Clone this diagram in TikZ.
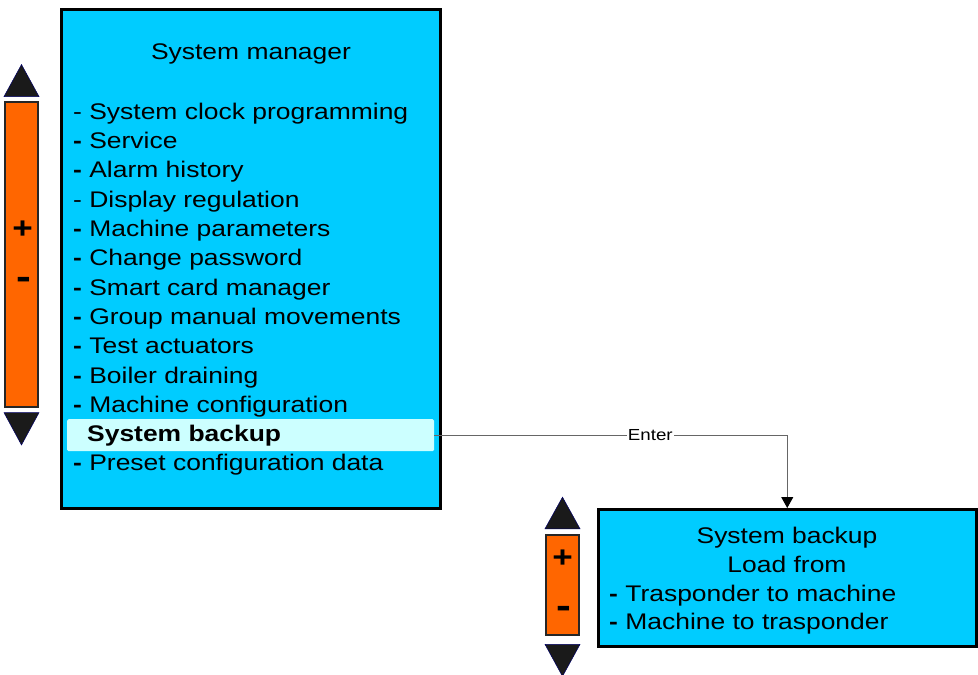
\documentclass[tikz,border=0pt]{standalone}
\usepackage{fontspec}
\setmainfont{Liberation Sans}[FakeStretch=1.17]
\usetikzlibrary{arrows.meta,positioning}
\definecolor{screen}{HTML}{00CCFF}
\definecolor{selrow}{HTML}{CCFFFF}
\definecolor{knob}{HTML}{FF6600}
\definecolor{tridark}{HTML}{1A1A1A}
\tikzset{
  panel/.style={draw=black, line width=2.5pt, fill=screen, anchor=north west, inner sep=0pt},
  bar/.style={draw=black!85, line width=2pt, fill=knob, minimum width=33pt, inner sep=0pt},
  item/.style={anchor=base west, inner sep=0pt, font=\fontsize{22.6}{29.3}\selectfont},
  selitem/.style={item, font=\fontsize{22.6}{29.3}\selectfont\bfseries},
  title/.style={anchor=base, inner sep=0pt, font=\fontsize{22.6}{29.3}\selectfont},
  sign/.style={inner sep=0pt, font=\fontsize{30}{30}\selectfont\bfseries},
  minus/.style={inner sep=0pt, yshift=-5pt, font=\fontsize{38}{38}\selectfont\bfseries},
  tri/.style={fill=tridark, draw=blue!40!black, line width=0.5pt},
  arrow/.style={-{Triangle[length=11pt, width=12pt, color=black, fill=black]}, draw=black!60, line width=1pt}
}

\begin{document}
\begin{tikzpicture}[x=1pt, y=-1pt]
    \useasboundingbox (0,0) rectangle (978,675);
    % system manager menu
    \node[panel, minimum width=379pt, minimum height=499pt] (manager) at (60,8) {};
    \node[title] (mtitle) at (251,59) {System manager};
    \node[fill=selrow, rounded corners=1.5pt, minimum width=367pt, minimum height=32pt, anchor=north west, inner sep=0pt] (selrow) at (67,419) {};
    \foreach \i/\txt/\dsh in {1/System clock programming/\relax, 2/Service/\bfseries, 3/Alarm history/\bfseries,
        4/Display regulation/\relax, 5/Machine parameters/\bfseries, 6/Change password/\bfseries,
        7/Smart card manager/\bfseries, 8/Group manual movements/\bfseries, 9/Test actuators/\bfseries,
        10/Boiler draining/\bfseries, 11/Machine configuration/\bfseries, 13/Preset configuration data/\bfseries}
      \node[item] (item\i) at (73,{119.3+29.3*(\i-1)}) {{\dsh -} \txt};
    \node[selitem] (item12) at (87,441.6) {System backup};

    % backup submenu
    \node[panel, minimum width=378pt, minimum height=137pt] (backup) at (597,508) {};
    \node[title] (btitle) at (787,543.3) {System backup};
    \node[title] (bload) at (787,572.3) {Load from};
    \node[item] (bopt1) at (609,601) {{\bfseries -} Trasponder to machine};
    \node[item] (bopt2) at (609,629.5) {{\bfseries -} Machine to trasponder};

    % scroll bars
    \node[bar, minimum height=305pt, left=21pt of manager, yshift=4pt] (lbar) {};
    \node[sign] (lplus) at (22.7,230) {+};
    \node[minus] (lminus) at (24.3,278.3) {-};
    \node[bar, minimum height=100pt, left=17pt of backup, yshift=-7pt] (sbar) {};
    \node[sign] (splus) at (562.7,558.3) {+};
    \node[minus] (sminus) at (564.3,607.3) {-};
    \filldraw[tri] ([yshift=4.7pt]lbar.north west) -- ([yshift=4.7pt]lbar.north east) -- ([yshift=36.7pt]lbar.north) -- cycle;
    \filldraw[tri] ([yshift=-4.4pt]lbar.south west) -- ([yshift=-4.4pt]lbar.south east) -- ([yshift=-36.7pt]lbar.south) -- cycle;
    \filldraw[tri] ([yshift=5pt]sbar.north west) -- ([yshift=5pt]sbar.north east) -- ([yshift=36.6pt]sbar.north) -- cycle;
    \filldraw[tri] ([yshift=-8.6pt]sbar.south west) -- ([yshift=-8.6pt]sbar.south east) -- ([yshift=-40.6pt]sbar.south) -- cycle;

    \draw[arrow] (selrow.east) -| node[pos=0.306, fill=white, inner sep=1pt, font=\fontsize{16}{16}\selectfont] (enter) {Enter} (backup.north);
\end{tikzpicture}
\end{document}
